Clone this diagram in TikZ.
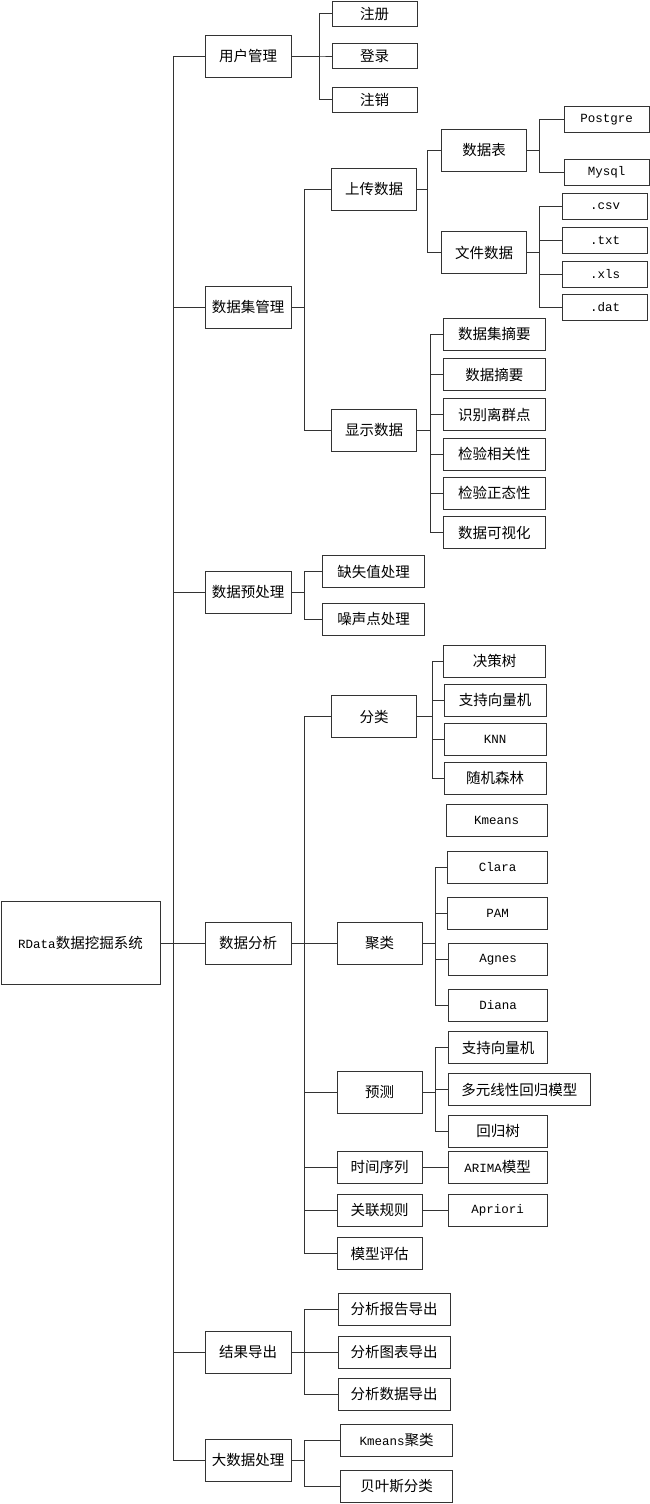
\documentclass[tikz,border=0pt]{standalone}
\usepackage{fontspec}
\setmainfont{Liberation Mono}
\newfontfamily\cjk{Noto Sans CJK SC}
\newcommand\cnf{\cjk\fontsize{14.5}{16}\selectfont}
\newcommand\enf{\rmfamily\fontsize{12.5}{14}\selectfont}
\usepackage{tikz}

\begin{document}
\begin{tikzpicture}[x=1pt,y=-1pt]
		\tikzstyle{box}=[rectangle,draw=black!80,line width=0.8pt,inner sep=0pt,font=\cnf];
		\tikzstyle{catbox}=[box,minimum width=86pt,minimum height=42pt];
		\tikzstyle{midbox}=[box,minimum width=85pt,minimum height=42pt];
		\tikzstyle{leafbox}=[box,minimum width=85pt,minimum height=26pt];
		\tikzstyle{itembox}=[box,minimum width=102pt,minimum height=32pt];
		\tikzstyle{latin}=[font=\enf];
		\tikzstyle{link}=[draw=black!80,line width=0.9pt];
		\useasboundingbox(0,0)rectangle(650,1504);

		\node[box,minimum width=159pt,minimum height=83pt](root)at(80.5,943){{\enf RData}数据挖掘系统};
		\node[catbox](user)at(248,56){用户管理};
		\node[catbox](dset)at(248,307){数据集管理};
		\node[catbox](prep)at(248,592){数据预处理};
		\node[catbox](anal)at(248,943){数据分析};
		\node[catbox](export)at(248,1352){结果导出};
		\node[catbox](big)at(248,1460){大数据处理};

		\node[leafbox,minimum height=25pt](reg)at(374.5,13.7){注册};
		\node[leafbox,minimum height=25pt](login)at(374.5,56){登录};
		\node[leafbox,minimum height=25pt](logout)at(374.5,99.5){注销};

		\node[midbox](upload)at(374,189){上传数据};
		\node[midbox](show)at(374,430){显示数据};
		\node[midbox](table)at(484,150){数据表};
		\node[midbox](file)at(484,252.7){文件数据};
		\node[leafbox,latin](pg)at(606.5,119.5){Postgre};
		\node[leafbox,latin](mysql)at(606.5,172){Mysql};
		\node[leafbox,latin](csv)at(605,206){.csv};
		\node[leafbox,latin](txt)at(605,240){.txt};
		\node[leafbox,latin](xls)at(605,274){.xls};
		\node[leafbox,latin](dat)at(605,307){.dat};
		\node[itembox](dsum)at(494.3,334.3){数据集摘要};
		\node[itembox](sum)at(494.3,374.5){数据摘要};
		\node[itembox](outl)at(494.3,414.7){识别离群点};
		\node[itembox](corr)at(494.3,454){检验相关性};
		\node[itembox](norm)at(494.3,493){检验正态性};
		\node[itembox](vis)at(494.3,532.5){数据可视化};

		\node[itembox](miss)at(373.7,571.5){缺失值处理};
		\node[itembox](noise)at(373.7,619){噪声点处理};

		\node[midbox](cls)at(374,716.7){分类};
		\node[midbox](clu)at(379.5,943){聚类};
		\node[midbox](pred)at(379.5,1092){预测};
		\node[midbox,minimum height=32pt](ts)at(379.5,1167){时间序列};
		\node[midbox,minimum height=32pt](assoc)at(379.5,1210){关联规则};
		\node[midbox,minimum height=32pt](eval)at(379.5,1253.7){模型评估};
		\node[itembox](tree)at(494.5,661.3){决策树};
		\node[itembox](svm)at(495,700.3){支持向量机};
		\node[itembox,latin](knn)at(495,739.7){KNN};
		\node[itembox](rf)at(495,778.3){随机森林};
		\node[itembox,latin,minimum width=101pt](kmeans)at(496.7,820.7){Kmeans};
		\node[itembox,latin,minimum width=100pt](clara)at(497.5,867){Clara};
		\node[itembox,latin,minimum width=100pt](pam)at(497.5,913){PAM};
		\node[itembox,latin,minimum width=99pt](agnes)at(498,959.5){Agnes};
		\node[itembox,latin,minimum width=99pt](diana)at(498,1005.5){Diana};
		\node[itembox,minimum width=99pt](svmr)at(498,1047.7){支持向量机};
		\node[itembox,minimum width=142pt](mlr)at(519.3,1089.5){多元线性回归模型};
		\node[itembox,minimum width=99pt](rtree)at(498,1131.5){回归树};
		\node[itembox,minimum width=99pt](arima)at(497.7,1167){{\enf ARIMA}模型};
		\node[itembox,latin,minimum width=99pt](apriori)at(497.7,1210){Apriori};

		\node[itembox,minimum width=112pt](rep)at(394,1309.3){分析报告导出};
		\node[itembox,minimum width=112pt](chart)at(394,1352){分析图表导出};
		\node[itembox,minimum width=112pt](data)at(394,1394.3){分析数据导出};
		\node[itembox,minimum width=112pt](kmc)at(396.5,1440.3){{\enf Kmeans}聚类};
		\node[itembox,minimum width=112pt](bayes)at(396.5,1486.5){贝叶斯分类};

		\foreach \c in {user,dset,prep,anal,export,big}
			\draw[link](root.east)--++(12.7,0)|-(\c.west);
		\foreach \c in {reg,login,logout}
			\draw[link](user.east)--++(28,0)|-(\c.west);
		\foreach \c in {upload,show}
			\draw[link](dset.east)--++(13,0)|-(\c.west);
		\foreach \c in {table,file}
			\draw[link](upload.east)--++(11,0)|-(\c.west);
		\foreach \c in {pg,mysql}
			\draw[link](table.east)--++(12.6,0)|-(\c.west);
		\foreach \c in {csv,txt,xls,dat}
			\draw[link](file.east)--++(12.6,0)|-(\c.west);
		\foreach \c in {dsum,sum,outl,corr,norm,vis}
			\draw[link](show.east)--++(13.4,0)|-(\c.west);
		\foreach \c in {miss,noise}
			\draw[link](prep.east)--++(13,0)|-(\c.west);
		\foreach \c in {cls,clu,pred,ts,assoc,eval}
			\draw[link](anal.east)--++(13,0)|-(\c.west);
		\foreach \c in {tree,svm,knn,rf}
			\draw[link](cls.east)--++(15.4,0)|-(\c.west);
		\foreach \c in {clara,pam,agnes,diana}
			\draw[link](clu.east)--++(13,0)|-(\c.west);
		\foreach \c in {svmr,mlr,rtree}
			\draw[link](pred.east)--++(13,0)|-(\c.west);
		\draw[link](ts)--(arima);
		\draw[link](assoc)--(apriori);
		\foreach \c in {rep,chart,data}
			\draw[link](export.east)--++(13,0)|-(\c.west);
		\foreach \c in {kmc,bayes}
			\draw[link](big.east)--++(13,0)|-(\c.west);
	\end{tikzpicture}
\end{document}
